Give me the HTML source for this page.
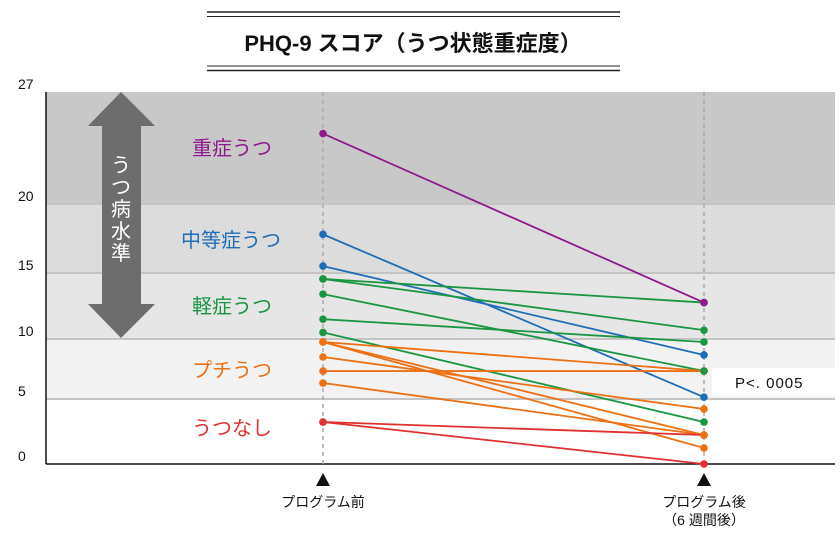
<!DOCTYPE html>
<html><head><meta charset="utf-8"><style>
body{margin:0;background:#fff;}
svg{display:block;font-family:"Liberation Sans","Noto Sans CJK JP",sans-serif;}
</style></head><body>
<svg id="chart" width="840" height="538" viewBox="0 0 840 538">
<g>
<line x1="207" y1="12" x2="620" y2="12" stroke="#222" stroke-width="1.5"/>
<line x1="207" y1="16.5" x2="620" y2="16.5" stroke="#222" stroke-width="1"/>
<line x1="207" y1="66" x2="620" y2="66" stroke="#222" stroke-width="1"/>
<line x1="207" y1="70.5" x2="620" y2="70.5" stroke="#222" stroke-width="1.5"/>
<text x="413" y="51" text-anchor="middle" font-size="22" font-weight="bold" fill="#111">PHQ-9 スコア（うつ状態重症度）</text>
</g>
<g id="bands"></g>
<g id="axis"></g>
<g>
<polygon points="121,92 155,126 141,126 141,304 155,304 121,338 88,304 102,304 102,126 88,126" fill="#6d6d6d"/>
<text x="121" y="172" text-anchor="middle" font-size="20" fill="#fff">う</text>
<text x="121" y="194" text-anchor="middle" font-size="20" fill="#fff">つ</text>
<text x="121" y="216" text-anchor="middle" font-size="20" fill="#fff">病</text>
<text x="121" y="238" text-anchor="middle" font-size="20" fill="#fff">水</text>
<text x="121" y="260" text-anchor="middle" font-size="20" fill="#fff">準</text>
</g>
<g font-size="20">
<text x="192" y="155" fill="#8e1a8c">重症うつ</text>
<text x="181" y="247" fill="#1f6eb5">中等症うつ</text>
<text x="192" y="313" fill="#1a9641">軽症うつ</text>
<text x="192" y="377" fill="#ec7014">プチうつ</text>
<text x="192" y="435" fill="#e03030">うつなし</text>
</g>
<g id="series"></g>
<g>
<rect x="712" y="368" width="123" height="28" fill="#fff"/>
<text x="735" y="388" font-size="15" fill="#111" letter-spacing="1">P&lt;. 0005</text>
</g>
<g font-size="14" fill="#111">
<polygon points="323,473 330,486 316,486" fill="#111"/>
<polygon points="704,473 711,486 697,486" fill="#111"/>
<text x="323" y="507" text-anchor="middle">プログラム前</text>
<text x="704" y="507" text-anchor="middle">プログラム後</text>
<text x="704" y="525" text-anchor="middle">（6 週間後）</text>
</g>
</svg>
<script>
const tickValues=[0,5,10,15,20,27];
const tickPixels=[464,399,339,273,204,92];
const bandFills=["#ffffff","#f2f2f2","#e6e6e6","#dcdcdc","#c8c8c8"];
const categories=["プログラム前","プログラム後"];
const seriesColors=["#8e1a8c","#1f6eb5","#1f6eb5","#1a9641","#1a9641","#1a9641","#1a9641","#1a9641","#ec7014","#ec7014","#ec7014","#ec7014","#ec7014","#ec7014","#e03030","#e03030"];
const beforeValues=[24.4,17.8,15.5,14.55,14.55,13.4,11.5,10.5,9.75,9.75,9.75,8.5,7.33,6.33,3.23,3.23];
const afterValues=[12.76,5.15,8.67,12.76,10.67,7.33,9.75,3.23,7.33,1.23,2.23,4.23,7.33,2.23,0,2.23];
const NS="http://www.w3.org/2000/svg";
function y(v){for(let i=0;i<tickValues.length-1;i++){if(v<=tickValues[i+1]){const t=(v-tickValues[i])/(tickValues[i+1]-tickValues[i]);return tickPixels[i]+t*(tickPixels[i+1]-tickPixels[i]);}}return tickPixels[tickPixels.length-1];}
function x(i){return 323+i*381;}
function mk(tag,attrs,parent){const e=document.createElementNS(NS,tag);for(const k in attrs)e.setAttribute(k,attrs[k]);parent.appendChild(e);return e;}
const bands=document.getElementById('bands');
for(let i=0;i<bandFills.length;i++){
const r=mk('rect',{x:46,y:y(tickValues[i+1]),width:789,height:y(tickValues[i])-y(tickValues[i+1]),fill:bandFills[i]},bands);


if(i>0){const l=mk('line',{x1:46,x2:835,y1:y(tickValues[i]),y2:y(tickValues[i]),stroke:'#c4c4c4','stroke-width':2},bands);

}
}
const axis=document.getElementById('axis');
for(const v of tickValues){
const t=mk('text',{x:18,y:y(v)-3,'font-size':14,fill:'#111'},axis);t.textContent=v;


}
const ya=mk('line',{x1:46,x2:46,y1:y(27),y2:y(0),stroke:'#111','stroke-width':1.5},axis);


const xa=mk('line',{x1:46,x2:835,y1:y(0),y2:y(0),stroke:'#111','stroke-width':1.5},axis);


for(let i=0;i<categories.length;i++){
const g=mk('line',{x1:x(i),x2:x(i),y1:y(27),y2:y(0),stroke:'#aaa','stroke-width':1.5,'stroke-dasharray':'4,4'},axis);


}
const s=document.getElementById('series');
for(let i=0;i<beforeValues.length;i++){
const g=mk('g',{},s);


mk('line',{x1:x(0),y1:y(beforeValues[i]),x2:x(1),y2:y(afterValues[i]),stroke:seriesColors[i],'stroke-width':1.8},g);
}
for(let i=beforeValues.length-1;i>=0;i--){
const c1=mk('circle',{cx:x(0),cy:y(beforeValues[i]),r:3.8,fill:seriesColors[i]},s);


const c2=mk('circle',{cx:x(1),cy:y(afterValues[i]),r:3.8,fill:seriesColors[i]},s);


}
</script>
</body></html>
